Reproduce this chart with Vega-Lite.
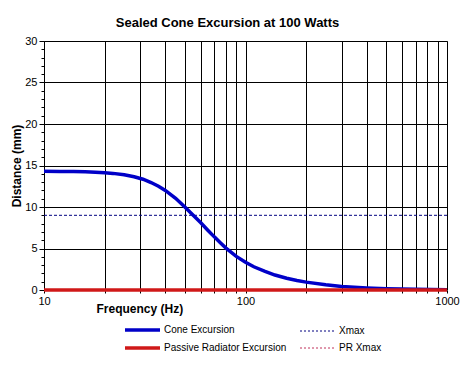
{
  "$schema": "https://vega.github.io/schema/vega-lite/v6.json",
  "width": 403,
  "height": 249,
  "autosize": {"type": "none"},
  "padding": {"left": 44, "top": 41, "right": 28, "bottom": 76},
  "background": "#ffffff",
  "config": {
    "font": "Liberation Sans",
    "view": {"stroke": "#808080", "strokeWidth": 1}
  },
  "title": {
    "text": "Sealed Cone Excursion at 100 Watts",
    "fontSize": 13,
    "fontWeight": "bold",
    "color": "#000000",
    "anchor": "middle",
    "dx": -18,
    "offset": 5
  },
  "data": {
    "values": [
      {"series": "Cone Excursion", "f": 10, "d": 14.3},
      {"series": "Cone Excursion", "f": 12, "d": 14.29},
      {"series": "Cone Excursion", "f": 14, "d": 14.27},
      {"series": "Cone Excursion", "f": 16, "d": 14.24},
      {"series": "Cone Excursion", "f": 18, "d": 14.2},
      {"series": "Cone Excursion", "f": 20, "d": 14.13},
      {"series": "Cone Excursion", "f": 22, "d": 14.05},
      {"series": "Cone Excursion", "f": 25, "d": 13.88},
      {"series": "Cone Excursion", "f": 28, "d": 13.65},
      {"series": "Cone Excursion", "f": 31, "d": 13.35},
      {"series": "Cone Excursion", "f": 34, "d": 12.95},
      {"series": "Cone Excursion", "f": 37, "d": 12.5},
      {"series": "Cone Excursion", "f": 40, "d": 12.0},
      {"series": "Cone Excursion", "f": 45, "d": 11.05},
      {"series": "Cone Excursion", "f": 50, "d": 10.0},
      {"series": "Cone Excursion", "f": 55, "d": 9.0},
      {"series": "Cone Excursion", "f": 60, "d": 8.1},
      {"series": "Cone Excursion", "f": 65, "d": 7.2},
      {"series": "Cone Excursion", "f": 70, "d": 6.4},
      {"series": "Cone Excursion", "f": 75, "d": 5.7},
      {"series": "Cone Excursion", "f": 80, "d": 5.05},
      {"series": "Cone Excursion", "f": 90, "d": 4.05},
      {"series": "Cone Excursion", "f": 100, "d": 3.35},
      {"series": "Cone Excursion", "f": 110, "d": 2.8},
      {"series": "Cone Excursion", "f": 125, "d": 2.25},
      {"series": "Cone Excursion", "f": 140, "d": 1.8},
      {"series": "Cone Excursion", "f": 160, "d": 1.42},
      {"series": "Cone Excursion", "f": 180, "d": 1.15},
      {"series": "Cone Excursion", "f": 200, "d": 0.95},
      {"series": "Cone Excursion", "f": 250, "d": 0.62},
      {"series": "Cone Excursion", "f": 300, "d": 0.43},
      {"series": "Cone Excursion", "f": 400, "d": 0.25},
      {"series": "Cone Excursion", "f": 500, "d": 0.16},
      {"series": "Cone Excursion", "f": 700, "d": 0.08},
      {"series": "Cone Excursion", "f": 1000, "d": 0.04},
      {"series": "Xmax", "f": 10, "d": 9},
      {"series": "Xmax", "f": 1000, "d": 9},
      {"series": "PR Xmax", "f": 10, "d": 0},
      {"series": "PR Xmax", "f": 1000, "d": 0},
      {"series": "Passive Radiator Excursion", "f": 10, "d": 0},
      {"series": "Passive Radiator Excursion", "f": 1000, "d": 0}
    ]
  },
  "encoding": {
    "x": {
      "field": "f",
      "type": "quantitative",
      "scale": {"type": "log", "domain": [10, 1000]},
      "axis": {
        "title": "Frequency (Hz)",
        "titleFontSize": 12,
        "titleFontWeight": "bold",
        "titleColor": "#000000",
        "titleAnchor": "start",
        "titleX": 52,
        "titlePadding": -3,
        "values": [10, 20, 30, 40, 50, 60, 70, 80, 90, 100, 200, 300, 400, 500, 600, 700, 800, 900, 1000],
        "labelExpr": "datum.value == 10 || datum.value == 100 || datum.value == 1000 ? datum.label : ''",
        "format": "d",
        "labelFontSize": 11,
        "labelColor": "#000000",
        "labelPadding": 2,
        "labelFlush": false,
        "labelOverlap": false,
        "grid": true,
        "gridColor": "#000000",
        "gridOpacity": 1,
        "gridWidth": 1,
        "tickColor": "#000000",
        "tickSize": 3,
        "domainColor": "#808080"
      }
    },
    "y": {
      "field": "d",
      "type": "quantitative",
      "scale": {"domain": [0, 30], "nice": false},
      "axis": {
        "title": "Distance (mm)",
        "titleFontSize": 12,
        "titleFontWeight": "bold",
        "titleColor": "#000000",
        "titlePadding": 1,
        "values": [0,1,2,3,4,5,6,7,8,9,10,11,12,13,14,15,16,17,18,19,20,21,22,23,24,25,26,27,28,29,30],
        "labelExpr": "datum.value % 5 === 0 ? datum.label : ''",
        "labelFontSize": 11,
        "labelColor": "#000000",
        "labelPadding": 2,
        "labelFlush": false,
        "labelOverlap": false,
        "grid": true,
        "gridColor": "#000000",
        "gridOpacity": {"condition": {"test": "datum.value % 5 === 0", "value": 1}, "value": 0},
        "tickColor": "#000000",
        "tickSize": {"condition": {"test": "datum.value % 5 === 0", "value": 5}, "value": 3},
        "domainColor": "#000000"
      }
    },
    "color": {
      "field": "series",
      "type": "nominal",
      "scale": {
        "domain": ["Cone Excursion", "Xmax", "Passive Radiator Excursion", "PR Xmax"],
        "range": ["#0000c8", "#000080", "#d01818", "#c0305a"]
      },
      "legend": {
        "title": null,
        "orient": "none",
        "legendX": 81,
        "legendY": 284,
        "columns": 2,
        "direction": "horizontal",
        "symbolType": "M-1,0H6",
        "symbolSize": 100,
        "symbolOffset": 0,
        "labelFontSize": 10,
        "labelColor": "#000000",
        "labelOffset": 29,
        "columnPadding": 11,
        "rowPadding": 4,
        "symbolStrokeWidth": 1,
        "encode": {
          "symbols": {
            "update": {
              "strokeWidth": {"signal": "datum.value === 'Cone Excursion' || datum.value === 'Passive Radiator Excursion' ? 3.5 : 1"},
              "strokeDash": {"signal": "datum.value === 'Cone Excursion' || datum.value === 'Passive Radiator Excursion' ? [1, 0] : [2, 2]"}
            }
          }
        }
      }
    }
  },
  "layer": [
    {
      "transform": [{"filter": "datum.series === 'Xmax'"}],
      "mark": {"type": "line", "strokeWidth": 1, "strokeDash": [3, 2], "clip": true}
    },
    {
      "transform": [{"filter": "datum.series === 'Cone Excursion'"}],
      "mark": {"type": "line", "strokeWidth": 3.5, "clip": true}
    },
    {
      "transform": [{"filter": "datum.series === 'PR Xmax'"}],
      "mark": {"type": "line", "strokeWidth": 1, "strokeDash": [3, 2], "clip": true}
    },
    {
      "transform": [{"filter": "datum.series === 'Passive Radiator Excursion'"}],
      "mark": {"type": "line", "strokeWidth": 3.5, "clip": false}
    }
  ]
}
